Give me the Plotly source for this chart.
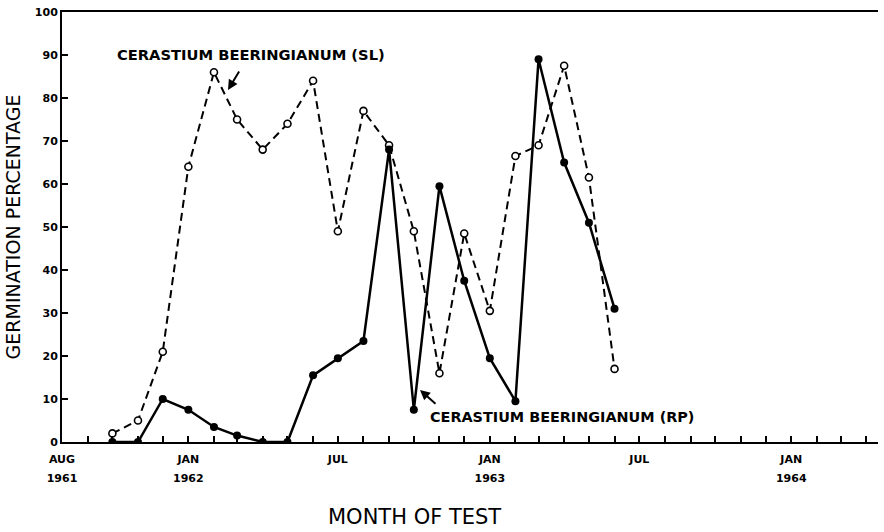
import plotly.graph_objects as go

# Month of each germination test (first of the month)
test_months = ['1961-10-01', '1961-11-01', '1961-12-01', '1962-01-01',
               '1962-02-01', '1962-03-01', '1962-04-01', '1962-05-01',
               '1962-06-01', '1962-07-01', '1962-08-01', '1962-09-01',
               '1962-10-01', '1962-11-01', '1962-12-01', '1963-01-01',
               '1963-02-01', '1963-03-01', '1963-04-01', '1963-05-01',
               '1963-06-01']

# Germination percentages
sl_pct = [2, 5, 21, 64, 86, 75, 68, 74, 84, 49, 77, 69,
          49, 16, 48.5, 30.5, 66.5, 69, 87.5, 61.5, 17]
rp_pct = [0, 0, 10, 7.5, 3.5, 1.5, 0, 0, 15.5, 19.5, 23.5, 68,
          7.5, 59.5, 37.5, 19.5, 9.5, 89, 65, 51, 31]

# Axis tick labels
month_tick_vals = ['1961-08-01', '1962-01-01', '1962-07-01',
                   '1963-01-01', '1963-07-01', '1964-01-01']
month_tick_text = ['AUG', 'JAN', 'JUL', 'JAN', 'JUL', 'JAN']
year_tick_vals = ['1961-08-01', '1962-01-01', '1963-01-01', '1964-01-01']
year_tick_text = ['1961', '1962', '1963', '1964']

# plot area in pixels, used to place the hand-lettered labels
L, R, T, B = 62, 878, 12, 442
def px_x(p):
    return (p - L) / (R - L)
def px_y(p):
    return (B - p) / (B - T)

bold = dict(family='DejaVu Sans', size=11, color='black', weight='bold')

fig = go.Figure()
fig.add_trace(go.Scatter(
    x=test_months, y=sl_pct, mode='lines+markers',
    name='Cerastium beeringianum (SL)',
    line=dict(color='black', width=2, dash='8px,5px'),
    marker=dict(symbol='circle', size=7, color='white',
                line=dict(color='black', width=1.6))))
fig.add_trace(go.Scatter(
    x=test_months, y=rp_pct, mode='lines+markers',
    name='Cerastium beeringianum (RP)',
    line=dict(color='black', width=2.5),
    marker=dict(symbol='circle', size=8, color='black')))

# invisible helper trace so the year axis gets drawn
fig.add_trace(go.Scatter(x=[year_tick_vals[0]], y=[0], xaxis='x2',
                         mode='markers', marker=dict(opacity=0),
                         showlegend=False, hoverinfo='skip'))

fig.update_layout(
    width=884, height=532,
    margin=dict(l=L, r=884 - R, t=T, b=532 - B),
    plot_bgcolor='white', paper_bgcolor='white',
    showlegend=False,
    xaxis=dict(
        type='date', range=['1961-08-01', '1964-04-15'], automargin=False,
        tickvals=month_tick_vals, ticktext=month_tick_text,
        ticks='inside', ticklen=6, tickwidth=1.5, tickcolor='black',
        minor=dict(ticks='inside', dtick='M1', tick0='1961-08-01',
                   ticklen=6, tickwidth=1.5, tickcolor='black'),
        showline=True, linecolor='black', linewidth=2, mirror=True,
        showgrid=False, zeroline=False,
        tickfont=bold, ticklabelstandoff=6),
    xaxis2=dict(
        type='date', overlaying='x', matches='x', anchor='y',
        side='bottom', tickvals=year_tick_vals, ticktext=year_tick_text,
        ticks='', showline=False, showgrid=False, zeroline=False,
        automargin=False, tickfont=bold, ticklabelstandoff=28),
    yaxis=dict(
        range=[0, 100], dtick=10, automargin=False,
        ticks='inside', ticklen=6, tickwidth=1.5, tickcolor='black',
        showline=True, linecolor='black', linewidth=2,
        showgrid=False, zeroline=False,
        tickfont=bold,
        title=dict(text='GERMINATION PERCENTAGE', standoff=9,
                   font=dict(family='DejaVu Sans', size=19,
                             color='black'))),
    annotations=[
        # x-axis title sits left of the plot centre in the original
        dict(text='MONTH OF TEST', xref='paper', yref='paper',
             x=px_x(414), y=px_y(517), xanchor='center', yanchor='middle',
             showarrow=False,
             font=dict(family='DejaVu Sans', size=21, color='black')),
        dict(text='CERASTIUM BEERINGIANUM (SL)', xref='paper', yref='paper',
             x=px_x(251), y=px_y(54), xanchor='center', yanchor='middle',
             showarrow=False, font=dict(bold, size=14.7)),
        dict(text='', xref='paper', yref='paper',
             x=px_x(228), y=px_y(90), ax=12, ay=-20,
             showarrow=True, arrowhead=2, arrowsize=1, arrowwidth=2,
             arrowcolor='black'),
        dict(text='CERASTIUM BEERINGIANUM (RP)', xref='paper', yref='paper',
             x=px_x(562), y=px_y(417), xanchor='center', yanchor='middle',
             showarrow=False, font=dict(bold, size=14.4)),
        dict(text='', xref='paper', yref='paper',
             x=px_x(420), y=px_y(390), ax=17, ay=15,
             showarrow=True, arrowhead=2, arrowsize=1, arrowwidth=2,
             arrowcolor='black'),
    ])

# drop the browser's default page margin so the figure sits at (0, 0)
fig.write_html("out.html", config={'displayModeBar': False},
               post_script="document.body.style.margin='0px';")
